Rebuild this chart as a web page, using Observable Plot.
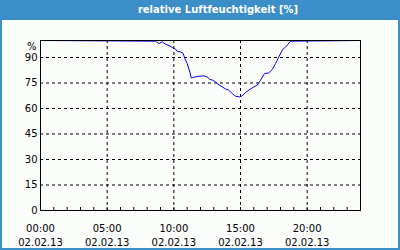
<!DOCTYPE html>
<html>
<head>
<meta charset="utf-8">
<script src="https://cdn.jsdelivr.net/npm/d3@7"></script>
<script src="https://cdn.jsdelivr.net/npm/@observablehq/plot@0.6"></script>
<style>
  html, body { margin: 0; padding: 0; background: #fbfdfb; }
  #wrap { position: relative; width: 400px; height: 250px; background: #fbfdfb; overflow: hidden; }
  #title { position: absolute; left: 0; top: 0; width: 400px; height: 20px; background: #3c8ec8;
           color: #fff; font: bold 10px "DejaVu Sans", sans-serif; line-height: 20px;
           box-sizing: border-box; padding-left: 36px; text-align: center; }
  #chart { position: absolute; left: 0; top: 20px; }
  #border { position: absolute; left: 0; top: 0; width: 400px; height: 250px; box-sizing: border-box;
            border-left: 2px solid #3c8ec8; border-right: 2px solid #3c8ec8; border-bottom: 2px solid #3c8ec8;
            pointer-events: none; }
</style>
</head>
<body>
<div id="wrap">
  <div id="title">relative Luftfeuchtigkeit [%]</div>
  <div id="chart"></div>
  <div id="border"></div>
</div>
<script>
// Time in hours since 00:00 on 02.02.13, relative humidity in %
const hours = [0, 8.63, 8.87, 9.13, 9.38, 9.62, 9.88, 10.13, 10.25, 10.5, 10.7, 10.82, 11.0, 11.2, 11.3, 11.5, 11.87, 12.25, 12.5, 12.7, 12.95, 13.25, 13.63, 13.88, 14.12, 14.38, 14.63, 14.95, 15.08, 15.38, 15.75, 16.0, 16.25, 16.5, 16.8, 17.12, 17.38, 17.63, 17.88, 18.13, 18.5, 18.75, 24];
const humidity = [100, 99.6, 98.2, 99.2, 97.8, 97.1, 95.9, 94.9, 93.7, 93.3, 92.4, 89.4, 86.5, 81.5, 78.0, 78.4, 79.0, 79.2, 78.6, 77.1, 76.6, 74.7, 72.7, 71.5, 70.8, 68.8, 67.2, 66.8, 67.2, 69.4, 71.5, 72.7, 73.7, 76.6, 80.6, 80.9, 82.9, 86.5, 90.4, 94.3, 97.2, 99.6, 100];

const xTicks = [0, 5, 10, 15, 20];
const timeLabels = ["00:00", "05:00", "10:00", "15:00", "20:00"];
const dateLabel = "02.02.13";
const yTicks = [0, 15, 30, 45, 60, 75, 90];
const yGrid = [15, 30, 45, 60, 75, 90];
const xGrid = [5, 10, 15, 20];
const minorTicks = [1, 2, 3, 4, 5, 6, 7, 8, 9, 10, 11, 12, 13, 14, 15, 16, 17, 18, 19, 20, 21, 22, 23];
const unitLabel = "%";

const data = hours.map((h, i) => ({h, v: humidity[i]}));

const chart = Plot.plot({
  width: 400,
  height: 230,
  marginLeft: 40,
  marginRight: 40,
  marginTop: 20,
  marginBottom: 40,
  style: {background: "#fbfdfb", fontFamily: "DejaVu Sans, sans-serif", fontSize: "10px", color: "black"},
  x: {domain: [0, 24], axis: null},
  y: {domain: [0, 100], axis: null},
  marks: [
    Plot.ruleY(yGrid, {y: d => d, stroke: "black", strokeDasharray: "3,3"}),
    Plot.ruleX(xGrid, {x: d => d, stroke: "black", strokeDasharray: "3,3"}),
    Plot.tickX(minorTicks, {x: d => d, stroke: "black", insetTop: 167}),
    Plot.line(data, {x: "h", y: "v", stroke: "#0000f0", strokeWidth: 1, clip: true}),
    Plot.frame({stroke: "black"}),
    Plot.text(yTicks, {y: d => d, text: d => String(d), frameAnchor: "left", textAnchor: "end", dx: -3, fill: "black", fontSize: 10}),
    Plot.text([unitLabel], {y: 100, text: d => d, frameAnchor: "left", textAnchor: "end", dx: -4, dy: 2, lineAnchor: "top", fill: "black", fontSize: 10}),
    Plot.text(xTicks, {x: d => d, text: (d, i) => timeLabels[i] + "\n" + dateLabel, frameAnchor: "bottom", lineAnchor: "top", dy: 11, lineHeight: 1.45, fill: "black", fontSize: 10})
  ]
});
document.getElementById("chart").appendChild(chart);
</script>
</body>
</html>
